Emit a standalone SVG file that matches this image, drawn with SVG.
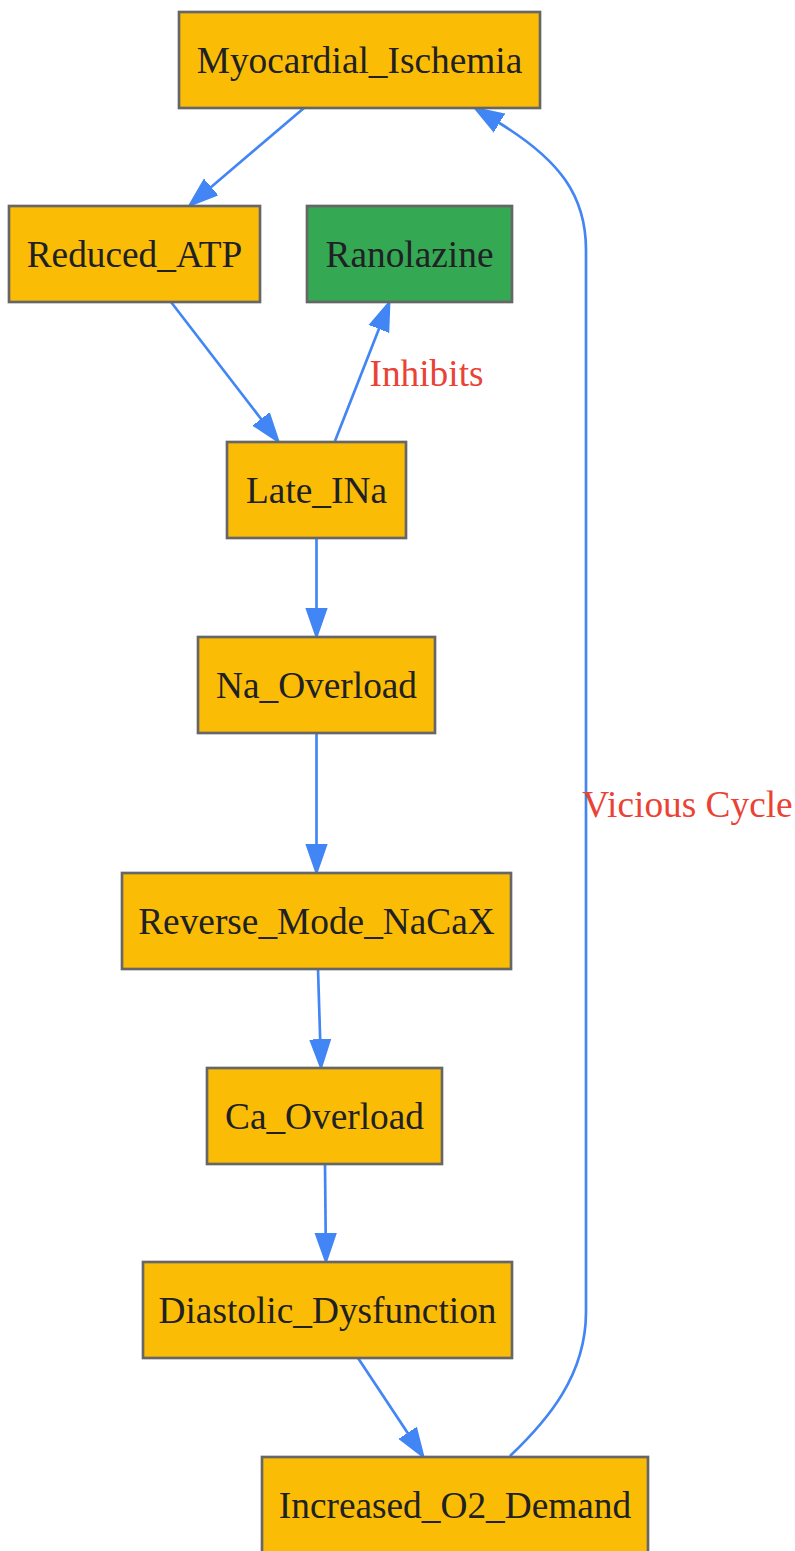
<svg xmlns="http://www.w3.org/2000/svg" width="795" height="1551" viewBox="0 0 795 1551">
<style>
.n rect{fill:#fbbc05;stroke:#666666;stroke-width:2.67}
.n.g rect{fill:#34a853}
.n text{font-family:"Liberation Serif",serif;font-size:37.33px;fill:#202124;text-anchor:middle}
.e path{fill:none;stroke:#4285f4;stroke-width:2.67}
.lbl{font-family:"Liberation Serif",serif;font-size:37.33px;fill:#ea4335;text-anchor:middle}
</style>
<defs>
<marker id="ah" markerUnits="userSpaceOnUse" markerWidth="30" markerHeight="24" viewBox="-1 -12 30 24" refX="0" refY="0" orient="auto">
<path d="M0,-9.3 L26.7,0 L0,9.3 Z" fill="#4285f4" stroke="#4285f4" stroke-width="2.67"/>
</marker>
</defs>
<rect width="795" height="1551" fill="#ffffff"/>
<g id="edges" class="e">
<path d="M304,108 L210.3,187.7" marker-end="url(#ah)"/>
<path d="M171,302 L261.7,419.8" marker-end="url(#ah)"/>
<path d="M335,441 L379.3,327.9" marker-end="url(#ah)"/>
<path d="M316.5,538 L316.5,609.3" marker-end="url(#ah)"/>
<path d="M316.5,733 L316.5,845.3" marker-end="url(#ah)"/>
<path d="M318,969 L320.2,1040.3" marker-end="url(#ah)"/>
<path d="M325,1164 L325.7,1234.3" marker-end="url(#ah)"/>
<path d="M358,1358 L408.2,1433.8" marker-end="url(#ah)"/>
<path d="M510,1456 C548,1420 586,1375 586,1312 L586,250 C586,196 560,160 498.5,122.5" marker-end="url(#ah)"/>
<text class="lbl" x="426.5" y="386">Inhibits</text>
<text class="lbl" x="687.5" y="817">Vicious Cycle</text>
</g>
<g id="Myocardial_Ischemia" class="n"><rect x="179" y="12" width="361" height="96"/><text x="359.5" y="73">Myocardial_Ischemia</text></g>
<g id="Reduced_ATP" class="n"><rect x="9" y="206" width="251" height="96"/><text x="134.5" y="267">Reduced_ATP</text></g>
<g id="Ranolazine" class="n g"><rect x="307" y="206" width="205" height="96"/><text x="409.5" y="267">Ranolazine</text></g>
<g id="Late_INa" class="n"><rect x="227" y="442" width="179" height="96"/><text x="316.5" y="503">Late_INa</text></g>
<g id="Na_Overload" class="n"><rect x="198" y="637" width="237" height="96"/><text x="316.5" y="698">Na_Overload</text></g>
<g id="Reverse_Mode_NaCaX" class="n"><rect x="122" y="873" width="389" height="96"/><text x="316.5" y="934">Reverse_Mode_NaCaX</text></g>
<g id="Ca_Overload" class="n"><rect x="207" y="1068" width="235" height="96"/><text x="324.5" y="1129">Ca_Overload</text></g>
<g id="Diastolic_Dysfunction" class="n"><rect x="143" y="1262" width="369" height="96"/><text x="327.5" y="1323">Diastolic_Dysfunction</text></g>
<g id="Increased_O2_Demand" class="n"><rect x="262" y="1457" width="386" height="96"/><text x="455" y="1518">Increased_O2_Demand</text></g>
</svg>
